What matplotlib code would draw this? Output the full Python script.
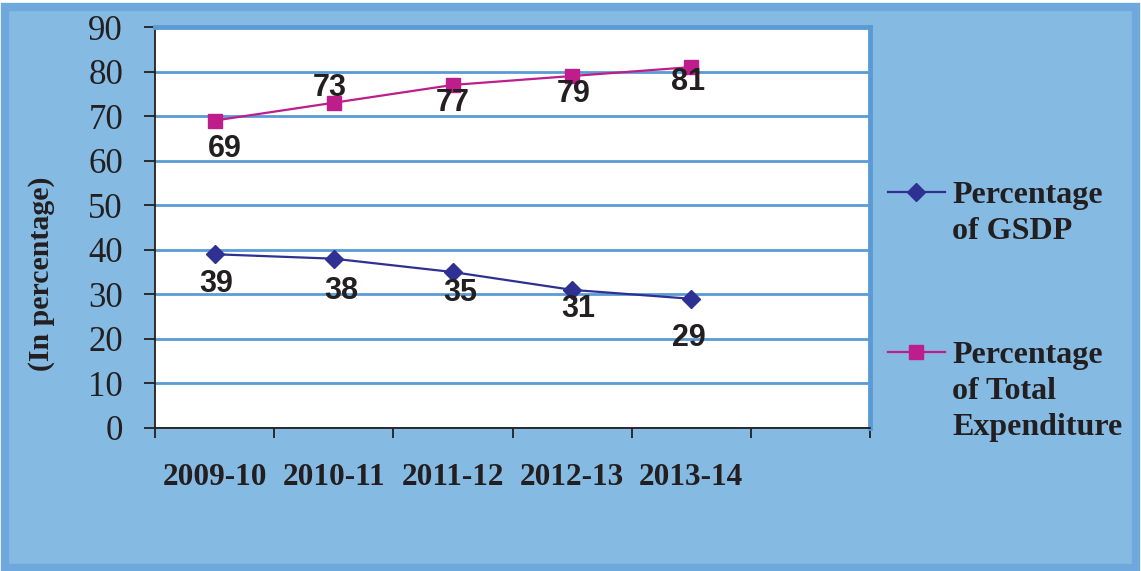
import matplotlib
matplotlib.use("Agg")
import matplotlib.pyplot as plt
from matplotlib.lines import Line2D
from matplotlib.patches import Rectangle

years = ["2009-10", "2010-11", "2011-12", "2012-13", "2013-14"]
gsdp_pct = [39, 38, 35, 31, 29]
expend_pct = [69, 73, 77, 79, 81]
n_slots = 6  # chart keeps one empty category slot on the right

# label offsets (pixels) for the value annotations
gsdp_off = [(2, -30), (8, -32), (7, -21), (6, -19), (-2, -39)]
expend_off = [(10, -28), (-4, 15), (0, -18), (2, -18), (-3, -15)]

bg = "#85BAE2"
grid_blue = "#5B9BD5"
navy = "#2E3192"
magenta = "#BE1E8C"
ink = "#231F20"
serif = "Liberation Serif"
sans = "Liberation Sans"

W, H = 1141, 571
fig = plt.figure(figsize=(W / 100, H / 100), dpi=100, facecolor="white")
fig.add_artist(Rectangle((5 / W, 3 / H), 1 - 10 / W, 1 - 10 / H, transform=fig.transFigure,
                         facecolor=bg, edgecolor="#6FA8DC", linewidth=6, zorder=0))

ax = fig.add_axes([155 / W, 1 - 428 / H, (870 - 155) / W, (428 - 27) / H])
ax.set_facecolor("white")

x = list(range(len(years)))
ax.plot(x, gsdp_pct, color=navy, lw=1.6, marker="D", ms=9, zorder=3)
ax.plot(x, expend_pct, color=magenta, lw=1.6, marker="s", ms=10, zorder=3)

for xi, v, (dx, dy) in zip(x, gsdp_pct, gsdp_off):
    ax.annotate(str(v), (xi, v), xytext=(dx, dy), textcoords="offset pixels",
                ha="center", va="center", fontsize=22, fontweight="bold",
                family=sans, color=ink, zorder=4)
for xi, v, (dx, dy) in zip(x, expend_pct, expend_off):
    ax.annotate(str(v), (xi, v), xytext=(dx, dy), textcoords="offset pixels",
                ha="center", va="center", fontsize=22, fontweight="bold",
                family=sans, color=ink, zorder=4)

ax.set_xlim(-0.5, n_slots - 0.5)
ax.set_ylim(0, 90)
ax.set_yticks(range(0, 91, 10))
ax.yaxis.grid(True, color=grid_blue, lw=2)
ax.set_axisbelow(True)
ax.tick_params(axis="y", direction="out", length=8, width=1.3, color=ink,
               pad=15, labelsize=25)
for lab in ax.get_yticklabels():
    lab.set_family(serif)
    lab.set_color(ink)

ax.set_xticks([i - 0.5 for i in range(n_slots + 1)])
ax.set_xticklabels([])
ax.tick_params(axis="x", which="major", direction="out", length=7, width=1.3, color=ink)
ax.set_xticks(x, minor=True)
ax.set_xticklabels(years, minor=True, fontsize=22.5, fontweight="bold", family=serif, color=ink)
ax.tick_params(axis="x", which="minor", length=0, pad=25)

for side in ["left", "bottom"]:
    ax.spines[side].set_color(ink)
    ax.spines[side].set_linewidth(1.3)
for side in ["top", "right"]:
    ax.spines[side].set_color(grid_blue)
    ax.spines[side].set_linewidth(3.5)

fig.text(42 / W, 1 - 274 / H, "(In percentage)", rotation=90, ha="center", va="center",
         fontsize=21.5, fontweight="bold", family=serif, color=ink)

# legend drawn by hand so the handle lines up with the first text row
legend = [(["Percentage", "of GSDP"], navy, "D", 9, 192, 203),
          (["Percentage", "of Total", "Expenditure"], magenta, "s", 10, 352, 363)]
for rows, col, mk, ms, ypx, base in legend:
    yf = 1 - ypx / H
    fig.add_artist(Line2D([888 / W, 945 / W], [yf, yf], transform=fig.transFigure,
                          color=col, lw=1.6))
    fig.add_artist(Line2D([916 / W], [yf], transform=fig.transFigure, color=col,
                          marker=mk, ms=ms, lw=0))
    for k, row in enumerate(rows):
        fig.text(952 / W, 1 - (base + 36 * k) / H, row, ha="left", va="baseline",
                 fontsize=23, fontweight="bold", family=serif, color=ink)

fig.savefig("out.png", dpi=100, facecolor=fig.get_facecolor())
